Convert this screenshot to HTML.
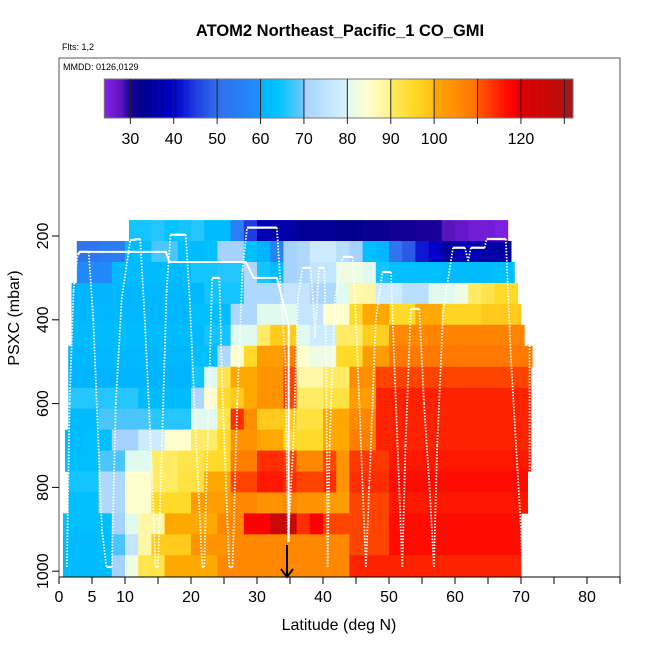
<!DOCTYPE html>
<html><head><meta charset="utf-8">
<style>
html,body{margin:0;padding:0;background:#fff;}
svg{display:block;font-family:"Liberation Sans",Arial,sans-serif;}
</style></head>
<body>
<svg id="chart" width="650" height="650" viewBox="0 0 650 650">
<text x="340" y="36" text-anchor="middle" font-size="16.5" font-weight="bold">ATOM2 Northeast_Pacific_1 CO_GMI</text>
<text x="62" y="50" font-size="9">Flts: 1,2</text>
<g id="heat"></g>
<g id="track"></g>
<rect x="59" y="58" width="561" height="519" fill="none" stroke="#555" stroke-width="1"/>
<text x="63" y="70" font-size="9">MMDD: 0126,0129</text>
<g id="cbar"></g>
<g id="axes"></g>
<text x="339" y="630" text-anchor="middle" font-size="16">Latitude (deg N)</text>
<text transform="translate(19,318) rotate(-90)" text-anchor="middle" font-size="16">PSXC (mbar)</text>
<line x1="287" y1="545" x2="287" y2="576" stroke="#000" stroke-width="2"/>
<path d="M281,569 L287,577 L293,569" fill="none" stroke="#000" stroke-width="2"/>
</svg>
<script>
const xTicks=[0,5,10,15,20,25,30,35,40,45,50,55,60,65,70,75,80,85];
const xTickLabels=["0","5","10","","20","","30","","40","","50","","60","","70","","80",""];
const yTicks=[200,400,600,800,1000];
const cbarTicks=[30,40,50,60,70,80,90,100,110,120,130];
const cbarLabels=["30","40","50","60","70","80","90","100","","120",""];
const rowCenters=[187,237,287,337,387,437,487,537,587,637,687,737,787,837,887,937,987];
const rowStart=[10.6,2.7,2.7,1.9,1.9,1.9,1.4,1.4,1.4,1.4,0.9,0.9,1.4,1.4,0.6,0.6,0.6];
const rowEnd=[68,68.5,69,69.5,70,70.5,71.7,71.5,71.5,71.5,71.5,71.5,71,71,70,70,70];
// 36 columns of 2 deg each (0-72)
const r01=[0,0,0,0,0,65,65,66,64,65,66,62,62,55,45,38,37,36,34,34,34,33,33,32,32,31,31,30,30,28,27,26,26,25,0,0];
const r02=[0,52,52,54,54,62,63,68,68,63,62,63,70,70,63,60,56,70,72,78,78,74,70,63,61,52,48,42,40,35,38,38,36,36,36,0];
const r03=[0,58,58,58,62,62,62,62,62,62,65,65,66,66,72,65,62,70,72,76,76,82,82,80,65,63,63,63,63,62,62,62,62,63,63,0];
const r04=[60,60,60,60,61,61,61,61,61,61,61,65,65,65,72,72,72,76,76,72,72,80,88,88,78,78,74,74,80,80,82,90,92,95,95,0];
const r05=[61,61,61,61,61,61,61,61,61,61,63,63,63,72,72,80,80,80,76,76,85,85,95,100,100,95,95,100,100,96,96,96,98,98,98,0];
const r06=[62,62,62,62,62,62,62,62,62,62,62,65,65,80,80,90,98,98,80,78,78,90,90,97,97,106,106,106,107,107,107,107,107,107,107,107];
const r07=[61,61,61,61,61,61,61,61,61,61,63,63,72,85,95,102,102,108,85,82,82,95,95,102,102,109,109,109,109,109,109,109,109,109,109,109];
const r08=[60,60,60,60,60,60,60,60,60,60,65,80,92,100,100,104,104,112,88,88,90,90,105,105,112,112,112,112,112,112,112,112,112,112,112,112];
const r09=[66,66,66,66,66,66,62,62,62,62,72,85,95,98,100,104,104,112,90,90,93,93,102,102,115,115,115,115,115,115,115,115,115,115,115,115];
const r10=[62,62,62,68,68,68,68,66,66,66,80,80,92,114,105,98,98,98,93,93,100,100,106,106,115,115,115,115,115,115,115,115,115,115,115,115];
const r11=[62,62,63,63,70,70,78,78,85,85,90,90,95,104,104,100,100,96,95,95,100,100,108,108,115,115,115,115,115,115,115,115,115,115,115,115];
const r12=[63,63,63,68,68,80,80,90,90,92,92,95,95,108,108,114,114,112,106,106,112,104,113,113,113,116,116,116,116,116,116,116,116,116,116,116];
const r13=[65,65,65,72,72,85,85,90,90,93,93,100,100,112,112,116,116,114,112,112,114,104,114,114,114,117,117,117,117,117,117,117,117,117,117,117];
const r14=[63,63,63,72,72,85,85,95,95,95,102,102,102,106,106,104,104,106,104,104,102,102,112,112,112,116,116,116,116,116,116,116,116,116,116,116];
const r15=[63,63,63,63,70,80,88,88,100,100,100,100,106,106,118,118,126,126,114,118,112,112,112,112,112,117,117,117,117,117,117,117,117,117,117,0];
const r16=[62,62,62,62,68,76,88,98,98,98,104,104,104,106,106,106,106,106,106,106,106,106,112,112,112,117,117,117,117,117,117,117,117,117,117,0];
const r17=[62,62,62,62,70,82,92,92,100,100,100,100,106,106,106,106,106,106,106,106,106,106,115,115,115,115,115,115,115,115,115,115,115,115,115,0];
const grid=[r01,r02,r03,r04,r05,r06,r07,r08,r09,r10,r11,r12,r13,r14,r15,r16,r17];
// flight track (lat, pressure)
const trackLat=[1.2,1.6,2.2,2.8,3.2,4.5,5.2,6.5,7.2,8,8.6,9.5,10.8,12.3,13,14.2,14.6,15,15.6,16.3,16.9,19.2,19.8,20.8,21.7,22,22.5,23.2,24.3,24.8,25.8,26.3,27,27.8,28.5,33,33.5,34.3,34.7,35.5,36.2,36.9,38.1,38.5,38.8,39.4,40.2,40.5,40.7,41,41.8,43,44.5,45,46,46.5,47,48,49,50.3,50.8,52,52.5,53.3,54.6,55.3,56.2,56.8,57.3,58.2,59.7,61.5,62,62.4,64.5,64.8,67.7,68.5,70,70.2];
const trackP=[990,600,330,245,238,238,400,900,990,990,600,350,210,207,400,800,990,990,700,330,197,197,350,700,990,990,700,300,300,600,990,990,600,280,180,180,300,500,930,700,350,276,276,350,443,276,276,500,990,700,350,250,250,400,800,990,800,400,286,286,500,990,700,374,374,600,815,990,700,380,228,228,260,228,228,207,207,500,900,990];
const legLat=[3,16.2,16.7,28.3,29.5,33,33.5,34.8,34.8];
const legP=[238,238,262,262,300,300,330,410,930];
const sideLat=[71.3,71.3];
const sideP=[440,790];

const NS='http://www.w3.org/2000/svg';
function X(lat){return 59+lat*6.6;}
function Y(p){return 236+(p-200)*0.419;}
function CX(v){return 104.3+(v-24)*4.34;}
const stops=[[24,[135,35,235]],[28,[90,20,190]],[30,[25,0,150]],[33,[0,0,140]],[40,[0,0,200]],[45,[30,60,225]],[50,[50,110,235]],[59.9,[30,144,255]],[60,[0,180,255]],[64,[0,195,255]],[69.9,[110,200,250]],[70,[165,210,255]],[79.9,[215,242,255]],[80,[225,250,240]],[85,[255,255,205]],[89.9,[255,242,140]],[90,[255,235,100]],[95,[255,218,40]],[99.9,[255,192,20]],[100,[255,168,0]],[109.9,[255,115,0]],[110,[255,90,0]],[118,[255,0,0]],[120,[220,0,0]],[128,[195,10,10]],[132,[160,25,25]]];
function col(v){
  if(v<=stops[0][0])return 'rgb('+stops[0][1]+')';
  for(let i=1;i<stops.length;i++){
    if(v<=stops[i][0]){const a=stops[i-1],b=stops[i];const t=(v-a[0])/(b[0]-a[0]);
      return 'rgb('+a[1].map((c,k)=>Math.round(c+(b[1][k]-c)*t)).join(',')+')';}
  }
  return 'rgb('+stops[stops.length-1][1]+')';
}
function mk(tag,attrs,parent){const e=document.createElementNS(NS,tag);for(const k in attrs)e.setAttribute(k,attrs[k]);parent.appendChild(e);return e;}

// heatmap
const heat=document.getElementById('heat');
grid.forEach((row,ri)=>{
  const pc=rowCenters[ri];
  const y0=Y(pc-25),y1=Y(pc+25);
  row.forEach((v,ci)=>{
    if(!v)return;
    let l0=Math.max(ci*2,rowStart[ri]),l1=Math.min(ci*2+2,rowEnd[ri]);
    if(l1<=l0)return;
    const r=mk('rect',{x:X(l0),y:y0,width:X(l1)-X(l0)+0.4,height:y1-y0+0.4,fill:col(v)},heat);
    
    
  });
});

// track
const track=document.getElementById('track');
for(let i=1;i<trackLat.length;i++){
  const flat=Math.abs(trackP[i]-trackP[i-1])<15;
  const s=mk('line',{x1:X(trackLat[i-1]),y1:Y(trackP[i-1]),x2:X(trackLat[i]),y2:Y(trackP[i]),stroke:'#fff','stroke-width':flat?2.2:1.8,'stroke-dasharray':flat?'none':'1.5,1.5'},track);
  
  
}
let lp='';legLat.forEach((l,i)=>{lp+=(i?'L':'M')+X(l)+','+Y(legP[i]);});
const leg=mk('path',{d:lp,fill:'none',stroke:'#fff','stroke-width':2},track);


const side=mk('line',{x1:X(sideLat[0]),y1:Y(sideP[0]),x2:X(sideLat[1]),y2:Y(sideP[1]),stroke:'#fff','stroke-width':1.8,'stroke-dasharray':'1.5,1.5'},track);



// colorbar
const cb=document.getElementById('cbar');
for(let v=24;v<132;v+=0.5){
  const r=mk('rect',{x:CX(v),y:79,width:4.34*0.5+0.3,height:39,fill:col(v+0.25)},cb);
  
  
}
const cbf=mk('rect',{x:104.3,y:79,width:CX(132)-104.3,height:39,fill:'none',stroke:'#777','stroke-width':1},cb);


cbarTicks.forEach((t,i)=>{
  const l=mk('line',{x1:CX(t),y1:79,x2:CX(t),y2:124,stroke:'#222','stroke-width':1},cb);
  
  
  if(cbarLabels[i]){
    const tx=mk('text',{x:CX(t),y:144,'text-anchor':'middle','font-size':16},cb);
    tx.textContent=cbarLabels[i];
    
    
  }
});

// axes
const ax=document.getElementById('axes');
const xa=mk('line',{x1:59,y1:577,x2:620,y2:577,stroke:'#000','stroke-width':1},ax);


xTicks.forEach((t,i)=>{
  const l=mk('line',{x1:X(t),y1:577,x2:X(t),y2:584,stroke:'#000','stroke-width':1},ax);
  
  
  if(xTickLabels[i]){
    const tx=mk('text',{x:X(t),y:602,'text-anchor':'middle','font-size':16},ax);
    tx.textContent=xTickLabels[i];
    
    
  }
});
yTicks.forEach(t=>{
  const l=mk('line',{x1:52,y1:Y(t),x2:59,y2:Y(t),stroke:'#000','stroke-width':1},ax);
  
  
  const tx=mk('text',{transform:'translate(48,'+Y(t)+') rotate(-90)','text-anchor':'middle','font-size':16},ax);
  tx.textContent=String(t);
  
  
});
</script>
</body></html>
